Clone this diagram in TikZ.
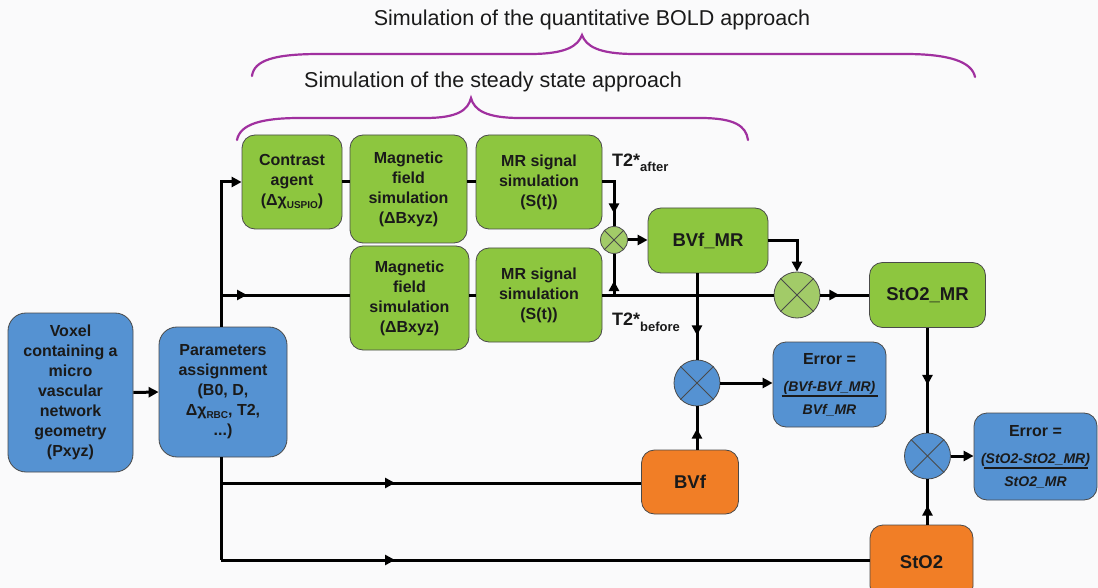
\documentclass[tikz,border=0pt]{standalone}
\usepackage{fontspec}
\setmainfont{Liberation Sans}
\usetikzlibrary{arrows.meta,decorations.markings}
\definecolor{gfill}{HTML}{8DC63F}
\definecolor{bfill}{HTML}{5592D2}
\definecolor{ofill}{HTML}{F17E26}
\definecolor{cgfill}{HTML}{A2CB68}
\definecolor{purp}{HTML}{A0309F}
\definecolor{bgc}{HTML}{FAFAFB}
\definecolor{edge}{HTML}{4A4A4A}
\definecolor{txt}{HTML}{1A1A1A}
\tikzset{
  box/.style={draw=edge, line width=0.8pt, rounded corners=13pt, align=center,
    font=\bfseries\fontsize{16}{20}\selectfont, text=txt, inner sep=2pt},
  gbox/.style={box, fill=gfill},
  bbox/.style={box, fill=bfill},
  obox/.style={box, fill=ofill, font=\bfseries\fontsize{18.5}{22}\selectfont},
  conn/.style={line width=3pt, black},
  endtip/.style={-{Triangle[length=10pt,width=10pt]}},
  arrowat/.style={postaction={decorate}, decoration={markings,
    mark=at position #1pt with {\arrow{Triangle[length=10pt,width=10pt]}}}},
  mult/.style={circle, draw=edge, line width=0.8pt, inner sep=0pt, minimum size=#1},
  purplebrace/.style={purp, line width=2.2pt, line cap=round},
  titletext/.style={font=\fontsize{21.5}{24}\selectfont, text=txt, inner sep=0pt},
  t2label/.style={font=\bfseries\fontsize{18}{20}\selectfont, text=txt, inner sep=0pt},
}
\newcommand{\subx}[2]{\raisebox{#1}{\fontsize{10}{10}\selectfont #2}}
\begin{document}
\begin{tikzpicture}[x=1pt,y=-1pt]
\path[use as bounding box] (0,0) rectangle (1098,588);
\clip (0,0) rectangle (1098,588);
\fill[bgc] (0,0) rectangle (1098,588);

% titles and braces
\node[titletext, anchor=base] (title1) at (592,26) {Simulation of the quantitative BOLD approach};
\node[titletext, anchor=base] (title2) at (493,88) {Simulation of the steady state approach};
\draw[purplebrace] (252,76) .. controls (254,60) and (275,54) .. (320,54) -- (530,54)
  .. controls (566,54) and (578,46) .. (582,35) .. controls (586,46) and (598,54) .. (635,54)
  -- (905,54) .. controls (950,54) and (972,62) .. (975,77);
\draw[purplebrace] (237,140) .. controls (240,124) and (262,118) .. (300,118) -- (425,118)
  .. controls (458,118) and (468,110) .. (471,98) .. controls (474,110) and (486,118) .. (520,118)
  -- (700,118) .. controls (735,118) and (746,126) .. (748,140);

% boxes
\node[bbox, minimum width=125pt, minimum height=159pt, rounded corners=18pt] (voxel) at (70.5,392.5)
  {Voxel\\containing a\\micro\\vascular\\network\\geometry\\(Pxyz)};
\node[bbox, minimum width=128pt, minimum height=130pt, rounded corners=18pt] (params) at (223,392)
  {Parameters\\assignment\\(B0, D,\\Δχ\subx{-2.5pt}{RBC}, T2,\\...)};
\node[gbox, minimum width=100pt, minimum height=94pt] (contrast) at (292,182)
  {Contrast\\agent\\(Δχ\subx{-2.5pt}{USPIO})};
\node[gbox, minimum width=117pt, minimum height=108pt] (mag1) at (408.5,189)
  {Magnetic\\field\\simulation\\(ΔBxyz)};
\node[gbox, minimum width=126pt, minimum height=94pt] (mr1) at (539,182)
  {MR signal\\simulation\\(S(t))};
\node[gbox, minimum width=119pt, minimum height=104pt] (mag2) at (409.5,298)
  {Magnetic\\field\\simulation\\(ΔBxyz)};
\node[gbox, minimum width=126pt, minimum height=94pt] (mr2) at (539,295)
  {MR signal\\simulation\\(S(t))};
\node[gbox, minimum width=120pt, minimum height=65pt, font=\bfseries\fontsize{18.5}{22}\selectfont] (bvfmr) at (708,240.5) {BVf\_MR};
\node[gbox, minimum width=116pt, minimum height=65pt, font=\bfseries\fontsize{18.5}{22}\selectfont] (stomr) at (927.5,295) {StO2\_MR};
\node[obox, minimum width=97pt, minimum height=64pt] (bvf) at (690,482) {BVf};
\node[obox, minimum width=103pt, minimum height=74pt] (sto2) at (921.5,562) {StO2};
\node[bbox, minimum width=113pt, minimum height=85pt] (err1) at (829.5,384.5)
  {Error =\\[7pt]{\fontsize{14}{14}\selectfont\itshape (BVf-BVf\_MR)}\\[-14pt]\rule{96pt}{1.8pt}\\[-3pt]{\fontsize{14}{14}\selectfont\itshape BVf\_MR}};
\node[bbox, minimum width=123pt, minimum height=87pt] (err2) at (1035.5,456.5)
  {Error =\\[7pt]{\fontsize{14}{14}\selectfont\itshape (StO2-StO2\_MR)}\\[-14pt]\rule{104pt}{1.8pt}\\[-3pt]{\fontsize{14}{14}\selectfont\itshape StO2\_MR}};

% multipliers
\node[mult=27pt, fill=cgfill] (c1) at (614,240) {};
\node[mult=46pt, fill=cgfill] (c2) at (797,295) {};
\node[mult=46pt, fill=bfill] (b1) at (697,383) {};
\node[mult=46pt, fill=bfill] (b2) at (927.5,456) {};
\foreach \c in {c1,c2,b1,b2}{
  \draw[edge, line width=0.8pt] (\c.north east) -- (\c.south west) (\c.north west) -- (\c.south east);
}

% T2* labels
\node[t2label, anchor=base west] (t2a) at (612,167) {T2*\raisebox{-5pt}{\fontsize{13}{13}\selectfont after}};
\node[t2label, anchor=base west] (t2b) at (612,325) {T2*\raisebox{-6pt}{\fontsize{13}{13}\selectfont before}};

% trunk coordinates
\coordinate (tTop) at (221,182);
\coordinate (tMid) at (221,295);
\coordinate (tBvf) at (221,483);
\coordinate (tBot) at (221,560);
\coordinate (jA) at (614,182);
\coordinate (jB) at (614,295);

% connectors
\draw[conn, endtip] (voxel.east) -- (params.west);
\draw[conn, endtip] (params.north -| tTop) -- (tTop) -- (contrast.west);
\draw[conn, arrowat=26] (tMid) -- (tMid -| mag2.west);
\draw[conn] (params.south -| tBot) -- (tBot);
\draw[conn, arrowat=174] (tBvf) -- (tBvf -| bvf.west);
\draw[conn, arrowat=174] (tBot) -- (tBot -| sto2.west);

\draw[conn] (contrast.east) -- (contrast.east -| mag1.west);
\draw[conn] (mr1.west -| mag1.east) -- (mr1.west);
\draw[conn] (mr2.west -| mag2.east) -- (mr2.west);

\draw[conn, arrowat=43] (mr1.east) -- (jA) -- (c1.north);
\draw[conn] (mr2.east) -- (c2.west);
\draw[conn, arrowat=14] (jB) -- (c1.south);
\draw[conn, endtip] (c1.east) -- (c1.east -| bvfmr.west);
\draw[conn, endtip] (bvfmr.east) -- (bvfmr.east -| c2) -- (c2.north);
\draw[conn, arrowat=19] (c2.east) -- (stomr.west);

\draw[conn, arrowat=62] (b1 |- bvfmr.south) -- (b1.north);
\draw[conn, arrowat=21] (b1 |- bvf.north) -- (b1.south);
\draw[conn, endtip] (b1.east) -- (b1.east -| err1.west);

\draw[conn, arrowat=57] (stomr.south) -- (b2.north);
\draw[conn, arrowat=19] (b2 |- sto2.north) -- (b2.south);
\draw[conn, endtip] (b2.east) -- (b2.east -| err2.west);
\end{tikzpicture}
\end{document}
